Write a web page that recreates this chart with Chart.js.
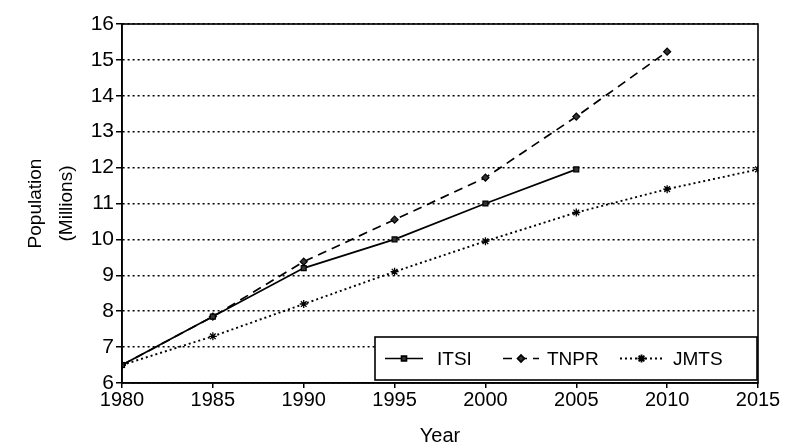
<!DOCTYPE html>
<html>
<head>
<meta charset="utf-8">
<script src="https://cdn.jsdelivr.net/npm/chart.js@4/dist/chart.umd.min.js"></script>
<style>
html,body{margin:0;padding:0;background:#fff;}
#wrap{width:797px;height:448px;}
</style>
</head>
<body>
<div id="wrap"><canvas id="c" width="797" height="448"></canvas></div>
<script>
// values
const years=[1980,1985,1990,1995,2000,2005,2010,2015];
const itsi=[6.5,7.85,9.2,10.0,11.0,11.95];
const tnpr=[6.5,7.85,9.38,10.55,11.72,13.42,15.23];
const jmts=[6.5,7.3,8.2,9.1,9.95,10.75,11.4,11.95];
const seriesNames=['ITSI','TNPR','JMTS'];

function pts(vals){return vals.map((v,i)=>({x:years[i],y:v}));}

const FONT='"Liberation Sans", Arial, sans-serif';

// frame + legend box drawn inside plot area
const framePlugin={
  id:'frame',
  afterDatasetsDraw(chart){
    const {ctx,chartArea:a}=chart;
    ctx.save();
    ctx.strokeStyle='#000';ctx.lineWidth=1.6;ctx.setLineDash([]);
    ctx.strokeRect(a.left,a.top,a.right-a.left,a.bottom-a.top);
    // legend
    const bx=375,by=337,bw=382,bh=43;
    ctx.fillStyle='#fff';ctx.fillRect(bx,by,bw,bh);
    ctx.lineWidth=1.6;ctx.strokeRect(bx,by,bw,bh);
    ctx.font='19px '+FONT;ctx.textBaseline='middle';ctx.fillStyle='#000';
    const cy=by+bh/2;
    const slots=[{x:385,w:38,tx:437},{x:503,w:36,tx:547},{x:620,w:43,tx:673}];
    chart.data.datasets.forEach((ds,i)=>{
      const s=slots[i];
      ctx.strokeStyle='#000';ctx.lineWidth=ds.borderWidth;
      ctx.setLineDash(ds.borderDash||[]);
      ctx.beginPath();ctx.moveTo(s.x,cy);ctx.lineTo(s.x+s.w,cy);ctx.stroke();
      ctx.setLineDash([]);
      ctx.fillStyle='#333';
      Chart.helpers.drawPoint(ctx,{pointStyle:ds.pointStyle,radius:ds.pointRadius,borderWidth:1.2},s.x+s.w/2,cy);
      ctx.fillStyle='#000';
      ctx.fillText(ds.label,s.tx,cy+1);
    });
    ctx.restore();
  }
};

new Chart(document.getElementById('c'),{
  type:'line',
  data:{datasets:[
    {label:seriesNames[0],data:pts(itsi),borderColor:'#000',backgroundColor:'#333',borderWidth:1.7,
     pointStyle:'rect',pointRadius:3.5,pointBorderWidth:1.2},
    {label:seriesNames[1],data:pts(tnpr),borderColor:'#000',backgroundColor:'#333',borderWidth:1.7,borderDash:[9,6],
     pointStyle:'rectRot',pointRadius:3.5,pointBorderWidth:1.2},
    {label:seriesNames[2],data:pts(jmts),borderColor:'#000',backgroundColor:'#333',borderWidth:1.9,borderDash:[2,3],
     pointStyle:'star',pointRadius:4,pointBorderWidth:1.3}
  ]},
  options:{
    responsive:false,animation:false,
    layout:{padding:{left:20,right:39,top:24,bottom:0}},
    plugins:{legend:{display:false},tooltip:{enabled:false}},
    elements:{line:{tension:0}},
    scales:{
      x:{type:'linear',min:1980,max:2015,
        afterFit(s){s.height=65;},
        ticks:{stepSize:5,color:'#000',font:{size:20,family:FONT},padding:0,callback:v=>String(v)},
        grid:{drawOnChartArea:false,drawTicks:true,tickLength:5,color:'#000',lineWidth:1.5},
        border:{display:true,color:'#000',width:1.6},
        title:{display:true,text:'Year',color:'#000',font:{size:20,family:FONT},padding:{top:0,bottom:0}}},
      y:{min:6,max:16,
        afterFit(s){s.width=102;},
        ticks:{stepSize:1,color:'#000',font:{size:21,family:FONT},padding:2},
        grid:{color:'#000',lineWidth:1.5,tickLength:6,tickBorderDash:[],tickColor:'#000'},
        border:{display:true,color:'#000',width:1.6,dash:[2,3]},
        title:{display:true,text:['Population','(Millions)'],color:'#000',
          font:{size:19,family:FONT,lineHeight:1.65},padding:{top:0,bottom:2}}}
    }
  },
  plugins:[framePlugin]
});
</script>
</body>
</html>
